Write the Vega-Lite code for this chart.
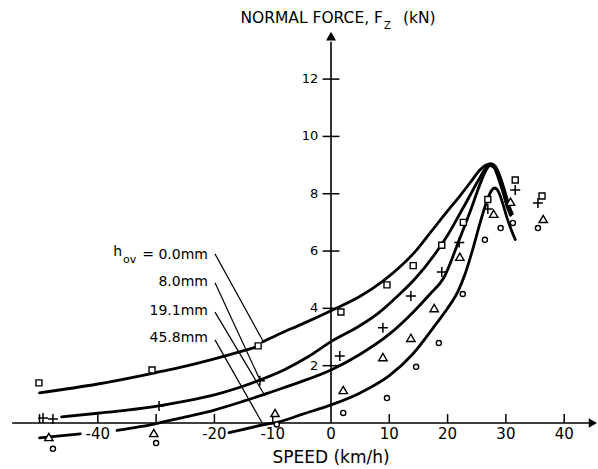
{
  "$schema": "https://vega.github.io/schema/vega-lite/v6.json",
  "width": 598,
  "height": 469,
  "padding": 0,
  "autosize": {"type": "none"},
  "background": "white",
  "config": {"view": {"stroke": null}, "font": "DejaVu Sans"},
  "datasets": {
    "curves": [
      {"g": "1a", "x": -50, "y": 1.05}, {"g": "1a", "x": -40, "y": 1.36}, {"g": "1a", "x": -30, "y": 1.76}, {"g": "1a", "x": -25.9, "y": 1.94}, {"g": "1a", "x": -20, "y": 2.24}, {"g": "1a", "x": -13, "y": 2.64},
      {"g": "1b", "x": -11.7, "y": 2.83}, {"g": "1b", "x": -8.7, "y": 3.12}, {"g": "1b", "x": -5, "y": 3.45}, {"g": "1b", "x": 0, "y": 3.92}, {"g": "1b", "x": 5, "y": 4.42}, {"g": "1b", "x": 8.9, "y": 4.95}, {"g": "1b", "x": 11.8, "y": 5.44}, {"g": "1b", "x": 14.7, "y": 6.04}, {"g": "1b", "x": 17, "y": 6.63}, {"g": "1b", "x": 20, "y": 7.4}, {"g": "1b", "x": 22.1, "y": 7.92}, {"g": "1b", "x": 24, "y": 8.42}, {"g": "1b", "x": 25.5, "y": 8.82}, {"g": "1b", "x": 26.6, "y": 9.0}, {"g": "1b", "x": 27.4, "y": 9.05}, {"g": "1b", "x": 28.2, "y": 8.95}, {"g": "1b", "x": 29.0, "y": 8.6}, {"g": "1b", "x": 29.8, "y": 8.1}, {"g": "1b", "x": 30.6, "y": 7.55}, {"g": "1b", "x": 31.1, "y": 7.3},
      {"g": "2", "x": -46.2, "y": 0.21}, {"g": "2", "x": -40, "y": 0.34}, {"g": "2", "x": -35, "y": 0.45}, {"g": "2", "x": -29.5, "y": 0.6}, {"g": "2", "x": -25, "y": 0.76}, {"g": "2", "x": -20, "y": 0.98}, {"g": "2", "x": -16, "y": 1.22}, {"g": "2", "x": -12.2, "y": 1.5}, {"g": "2", "x": -8, "y": 1.86}, {"g": "2", "x": -4, "y": 2.3}, {"g": "2", "x": 0, "y": 2.84}, {"g": "2", "x": 5, "y": 3.4}, {"g": "2", "x": 8.4, "y": 3.88}, {"g": "2", "x": 11, "y": 4.35}, {"g": "2", "x": 14.5, "y": 5.05}, {"g": "2", "x": 18.2, "y": 6.0}, {"g": "2", "x": 20, "y": 6.55}, {"g": "2", "x": 22.1, "y": 7.3}, {"g": "2", "x": 24, "y": 8.0}, {"g": "2", "x": 25.5, "y": 8.55}, {"g": "2", "x": 26.6, "y": 8.9}, {"g": "2", "x": 27.3, "y": 9.0}, {"g": "2", "x": 28.0, "y": 8.92}, {"g": "2", "x": 28.8, "y": 8.58}, {"g": "2", "x": 29.6, "y": 8.08}, {"g": "2", "x": 30.4, "y": 7.55}, {"g": "2", "x": 30.9, "y": 7.3},
      {"g": "3a", "x": -50, "y": -0.52}, {"g": "3a", "x": -43, "y": -0.38},
      {"g": "3b", "x": -36.7, "y": -0.26}, {"g": "3b", "x": -33, "y": -0.14}, {"g": "3b", "x": -30, "y": -0.02}, {"g": "3b", "x": -25.9, "y": 0.17}, {"g": "3b", "x": -20, "y": 0.45}, {"g": "3b", "x": -15, "y": 0.76}, {"g": "3b", "x": -10, "y": 1.1}, {"g": "3b", "x": -5, "y": 1.45}, {"g": "3b", "x": 0, "y": 1.85}, {"g": "3b", "x": 5, "y": 2.4}, {"g": "3b", "x": 10, "y": 3.1}, {"g": "3b", "x": 14, "y": 3.85}, {"g": "3b", "x": 17, "y": 4.5}, {"g": "3b", "x": 19.3, "y": 5.05}, {"g": "3b", "x": 22.1, "y": 6.45}, {"g": "3b", "x": 24, "y": 7.45}, {"g": "3b", "x": 25.5, "y": 8.3}, {"g": "3b", "x": 26.6, "y": 8.82}, {"g": "3b", "x": 27.3, "y": 8.98}, {"g": "3b", "x": 28.0, "y": 8.9}, {"g": "3b", "x": 28.7, "y": 8.55}, {"g": "3b", "x": 29.5, "y": 8.05}, {"g": "3b", "x": 30.3, "y": 7.5}, {"g": "3b", "x": 30.8, "y": 7.25},
      {"g": "4", "x": -17.5, "y": -0.34}, {"g": "4", "x": -11.7, "y": -0.07}, {"g": "4", "x": -8.7, "y": 0.05}, {"g": "4", "x": -5, "y": 0.3}, {"g": "4", "x": 0, "y": 0.63}, {"g": "4", "x": 5, "y": 1.05}, {"g": "4", "x": 10, "y": 1.65}, {"g": "4", "x": 14, "y": 2.4}, {"g": "4", "x": 18, "y": 3.45}, {"g": "4", "x": 20, "y": 4.0}, {"g": "4", "x": 21.8, "y": 4.6}, {"g": "4", "x": 23, "y": 5.2}, {"g": "4", "x": 24.3, "y": 6.05}, {"g": "4", "x": 25.6, "y": 7.0}, {"g": "4", "x": 26.7, "y": 7.72}, {"g": "4", "x": 27.5, "y": 8.1}, {"g": "4", "x": 28.1, "y": 8.2}, {"g": "4", "x": 28.7, "y": 8.08}, {"g": "4", "x": 29.4, "y": 7.7}, {"g": "4", "x": 30.2, "y": 7.15}, {"g": "4", "x": 31.0, "y": 6.7}, {"g": "4", "x": 31.6, "y": 6.4}
    ],
    "squares": [
      {"x": -50.1, "y": 1.4}, {"x": -30.7, "y": 1.85}, {"x": -12.5, "y": 2.69}, {"x": 1.7, "y": 3.87}, {"x": 9.6, "y": 4.82}, {"x": 14.1, "y": 5.49}, {"x": 19.0, "y": 6.2}, {"x": 22.7, "y": 7.0}, {"x": 26.9, "y": 7.8}, {"x": 31.6, "y": 8.48}, {"x": 36.2, "y": 7.92}
    ],
    "pluses": [
      {"x": -49.4, "y": 0.17}, {"x": -47.7, "y": 0.14}, {"x": -29.5, "y": 0.59}, {"x": -12.2, "y": 1.47}, {"x": 1.5, "y": 2.34}, {"x": 8.9, "y": 3.32}, {"x": 13.7, "y": 4.43}, {"x": 19.0, "y": 5.27}, {"x": 22.0, "y": 6.3}, {"x": 26.9, "y": 7.47}, {"x": 31.6, "y": 8.13}, {"x": 35.5, "y": 7.68}
    ],
    "triangles": [
      {"x": -48.4, "y": -0.49}, {"x": -30.4, "y": -0.35}, {"x": -9.6, "y": 0.35}, {"x": 2.1, "y": 1.15}, {"x": 8.9, "y": 2.3}, {"x": 13.7, "y": 2.97}, {"x": 17.7, "y": 4.01}, {"x": 22.1, "y": 5.8}, {"x": 27.9, "y": 7.3}, {"x": 30.8, "y": 7.72}, {"x": 36.4, "y": 7.12}
    ],
    "circles": [
      {"x": -47.7, "y": -0.9}, {"x": -30.0, "y": -0.7}, {"x": -9.3, "y": -0.05}, {"x": 2.1, "y": 0.35}, {"x": 9.6, "y": 0.87}, {"x": 14.6, "y": 1.96}, {"x": 18.5, "y": 2.79}, {"x": 22.6, "y": 4.5}, {"x": 26.4, "y": 6.39}, {"x": 29.1, "y": 6.8}, {"x": 31.2, "y": 6.98}, {"x": 35.5, "y": 6.8}
    ],
    "axes": [
      {"x": -54.7, "x2": 44.8, "y": 0, "y2": 0},
      {"x": 0, "x2": 0, "y": 0, "y2": 13.3}
    ],
    "ticks": [
      {"x": -50, "x2": -50, "y": 0, "y2": 0.31}, {"x": -40, "x2": -40, "y": 0, "y2": 0.31}, {"x": -30, "x2": -30, "y": 0, "y2": 0.31}, {"x": -20, "x2": -20, "y": 0, "y2": 0.31}, {"x": -10, "x2": -10, "y": 0, "y2": 0.31},
      {"x": 10, "x2": 10, "y": 0, "y2": 0.31}, {"x": 20, "x2": 20, "y": 0, "y2": 0.31}, {"x": 30, "x2": 30, "y": 0, "y2": 0.31}, {"x": 40, "x2": 40, "y": 0, "y2": 0.31},
      {"x": -1.45, "x2": 1.45, "y": 2, "y2": 2}, {"x": -1.45, "x2": 1.45, "y": 4, "y2": 4}, {"x": -1.45, "x2": 1.45, "y": 6, "y2": 6}, {"x": -1.45, "x2": 1.45, "y": 8, "y2": 8}, {"x": -1.45, "x2": 1.45, "y": 10, "y2": 10}, {"x": -1.45, "x2": 1.45, "y": 12, "y2": 12}
    ],
    "leaders": [
      {"x": -19.9, "x2": -11.66, "y": 5.9, "y2": 2.86},
      {"x": -19.9, "x2": -12.18, "y": 4.89, "y2": 1.5},
      {"x": -19.9, "x2": -11.3, "y": 3.87, "y2": 0.94},
      {"x": -19.9, "x2": -11.8, "y": 2.9, "y2": 0.0}
    ],
    "arrowUp": [{"x": 0, "y": 13.5}],
    "arrowRight": [{"x": 44.92, "y": 0}],
    "xlabels": [
      {"x": -40, "y": -0.38, "t": "-40"}, {"x": -20, "y": -0.38, "t": "-20"}, {"x": -10, "y": -0.38, "t": "-10"}, {"x": 0, "y": -0.38, "t": "0"}, {"x": 10, "y": -0.38, "t": "10"}, {"x": 20, "y": -0.38, "t": "20"}, {"x": 30, "y": -0.38, "t": "30"}, {"x": 40, "y": -0.38, "t": "40"}
    ],
    "ylabels": [
      {"x": -2.2, "y": 2, "t": "2"}, {"x": -2.2, "y": 4, "t": "4"}, {"x": -2.2, "y": 6, "t": "6"}, {"x": -2.2, "y": 8, "t": "8"}, {"x": -2.2, "y": 10, "t": "10"}, {"x": -2.2, "y": 12, "t": "12"}
    ],
    "legendRight": [
      {"x": -21.1, "y": 5.86, "t": "= 0.0mm"}, {"x": -21.1, "y": 4.92, "t": "8.0mm"}, {"x": -21.1, "y": 3.91, "t": "19.1mm"}, {"x": -21.1, "y": 2.97, "t": "45.8mm"}
    ]
  },
  "encoding": {
    "x": {"field": "x", "type": "quantitative", "scale": {"domain": [-56.78, 45.8], "nice": false, "zero": false}, "axis": null},
    "y": {"field": "y", "type": "quantitative", "scale": {"domain": [-1.606, 14.76], "nice": false, "zero": false}, "axis": null}
  },
  "layer": [
    {"data": {"name": "axes"}, "mark": {"type": "rule", "color": "black", "strokeWidth": 1.6}, "encoding": {"x2": {"field": "x2"}, "y2": {"field": "y2"}}},
    {"data": {"name": "ticks"}, "mark": {"type": "rule", "color": "black", "strokeWidth": 1.5}, "encoding": {"x2": {"field": "x2"}, "y2": {"field": "y2"}}},
    {"data": {"name": "leaders"}, "mark": {"type": "rule", "color": "black", "strokeWidth": 1.2}, "encoding": {"x2": {"field": "x2"}, "y2": {"field": "y2"}}},
    {"data": {"name": "curves"}, "mark": {"type": "line", "color": "black", "strokeWidth": 2.8, "interpolate": "monotone", "strokeCap": "round"}, "encoding": {"detail": {"field": "g"}}},
    {"data": {"name": "arrowUp"}, "mark": {"type": "point", "shape": "triangle-up", "filled": true, "color": "black", "size": 100, "opacity": 1}},
    {"data": {"name": "arrowRight"}, "mark": {"type": "point", "shape": "triangle-right", "filled": true, "color": "black", "size": 90, "opacity": 1}},
    {"data": {"name": "squares"}, "mark": {"type": "point", "shape": "square", "size": 36, "stroke": "black", "strokeWidth": 1.4, "fill": "white", "filled": false, "opacity": 1, "fillOpacity": 1}},
    {"data": {"name": "pluses"}, "mark": {"type": "point", "shape": "M-1,0H1M0,-1V1", "size": 100, "stroke": "black", "strokeWidth": 1.5, "fill": "transparent", "opacity": 1}},
    {"data": {"name": "triangles"}, "mark": {"type": "point", "shape": "triangle-up", "size": 70, "stroke": "black", "strokeWidth": 1.4, "fill": "white", "opacity": 1, "fillOpacity": 1}},
    {"data": {"name": "circles"}, "mark": {"type": "point", "shape": "circle", "size": 26, "stroke": "black", "strokeWidth": 1.4, "fill": "white", "opacity": 1, "fillOpacity": 1}},
    {"data": {"name": "xlabels"}, "mark": {"type": "text", "fontSize": 15, "align": "center", "baseline": "middle", "color": "black"}, "encoding": {"text": {"field": "t"}}},
    {"data": {"name": "ylabels"}, "mark": {"type": "text", "fontSize": 13, "align": "right", "baseline": "middle", "color": "black"}, "encoding": {"text": {"field": "t"}}},
    {"data": {"name": "legendRight"}, "mark": {"type": "text", "fontSize": 14, "align": "right", "baseline": "middle", "color": "black"}, "encoding": {"text": {"field": "t"}}},
    {"data": {"values": [{"x": -35.85, "y": 5.97, "t": "h"}]}, "mark": {"type": "text", "fontSize": 14, "align": "right", "baseline": "middle", "color": "black"}, "encoding": {"text": {"field": "t"}}},
    {"data": {"values": [{"x": -35.68, "y": 5.69, "t": "ov"}]}, "mark": {"type": "text", "fontSize": 11, "align": "left", "baseline": "middle", "color": "black"}, "encoding": {"text": {"field": "t"}}},
    {"data": {"values": [{"x": 8.92, "y": 14.14, "t": "NORMAL FORCE, F"}]}, "mark": {"type": "text", "fontSize": 15.5, "align": "right", "baseline": "middle", "color": "black"}, "encoding": {"text": {"field": "t"}}},
    {"data": {"values": [{"x": 9.09, "y": 13.86, "t": "Z"}]}, "mark": {"type": "text", "fontSize": 10, "align": "left", "baseline": "middle", "color": "black"}, "encoding": {"text": {"field": "t"}}},
    {"data": {"values": [{"x": 12.35, "y": 14.14, "t": "(kN)"}]}, "mark": {"type": "text", "fontSize": 15.5, "align": "left", "baseline": "middle", "color": "black"}, "encoding": {"text": {"field": "t"}}},
    {"data": {"values": [{"x": 0, "y": -1.22, "t": "SPEED (km/h)"}]}, "mark": {"type": "text", "fontSize": 17, "align": "center", "baseline": "middle", "color": "black"}, "encoding": {"text": {"field": "t"}}}
  ]
}
